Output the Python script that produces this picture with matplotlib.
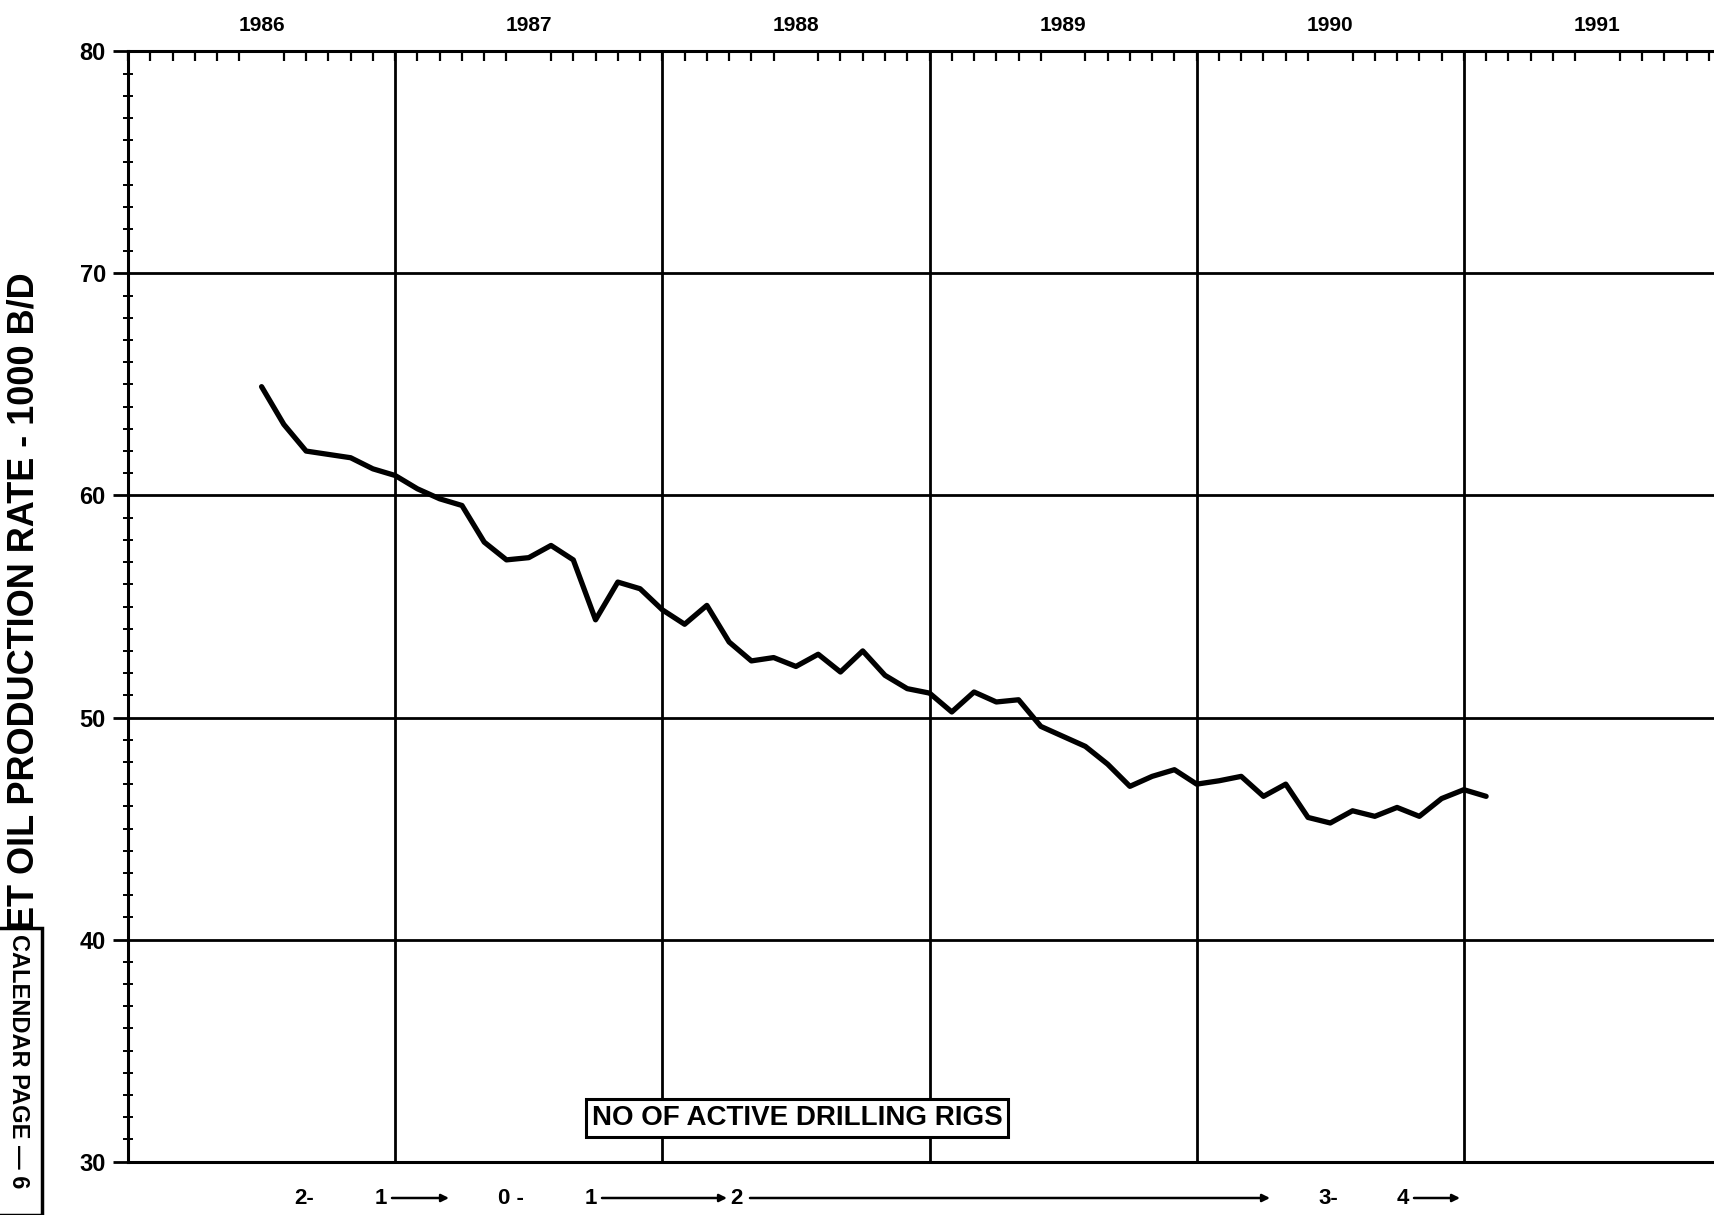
import matplotlib.pyplot as plt
import matplotlib.patches as patches
import numpy as np
import pandas as pd

plt.rcParams['font.family'] = ['Liberation Sans', 'DejaVu Sans']

# monthly net oil production rate, 1000 B/D, from July 1986
start_month = "1986-07-01"
rate = [64.9, 63.2, 62.0, 61.85, 61.7, 61.2, 60.9, 60.3, 59.85, 59.55,
        57.9, 57.1, 57.2, 57.75, 57.1, 54.4, 56.1, 55.8, 54.85, 54.2,
        55.05, 53.4, 52.55, 52.7, 52.3, 52.85, 52.05, 53.0, 51.9, 51.3,
        51.1, 50.25, 51.15, 50.7, 50.8, 49.6, 49.15, 48.7, 47.9, 46.9,
        47.35, 47.65, 47.0, 47.15, 47.35, 46.45, 47.0, 45.5, 45.25, 45.8,
        45.55, 45.95, 45.55, 46.35, 46.75, 46.45]
years = [1986, 1987, 1988, 1989, 1990, 1991]
year_labels = ["1986", "1987", "1988", "1989", "1990", "1991"]
y_ticks = [30, 40, 50, 60, 70, 80]
ylabel = "NET OIL PRODUCTION RATE - 1000 B/D"
box_label = "NO OF ACTIVE DRILLING RIGS"
page_label = "CALENDAR PAGE \u2014 6"

W, H = 1715, 1215


def fx(px):
    return px / W


def fy(py):
    return 1 - py / H


dates = pd.date_range(start_month, periods=len(rate), freq="MS")
x = dates.year + (dates.month - 1) / 12

fig = plt.figure(figsize=(W / 100, H / 100), dpi=100)
ax = fig.add_axes([fx(128), fy(1161.6), 1 - fx(128), (1161.6 - 51.4) / H])

ax.plot(x, rate, color="black", lw=3.8, solid_joinstyle="round",
        solid_capstyle="round", zorder=3)
ax.set_xlim(1986, 1991.94)
ax.set_ylim(30, 80)

# grid
for yr in years[1:]:
    ax.axvline(yr, color="black", lw=2.0, zorder=1)
for v in y_ticks[1:-1]:
    ax.axhline(v, color="black", lw=2.0, zorder=1)

# top axis: years and monthly ticks
ax.xaxis.tick_top()
ax.set_xticks([y + 0.5 for y in years])
ax.set_xticklabels(year_labels, fontsize=15, fontweight="bold")
ax.set_xticks(np.arange(1986, 1991.95, 1 / 12), minor=True)
ax.tick_params(axis="x", which="major", length=0, pad=12)
ax.tick_params(axis="x", which="minor", direction="in", length=7, width=1.6)

ax.set_yticks(y_ticks)
ax.set_yticklabels([str(v) for v in y_ticks], fontsize=17, fontweight="bold")
ax.set_yticks(np.arange(30, 81, 1), minor=True)
ax.tick_params(axis="y", which="major", direction="out", length=11, width=2, pad=5)
ax.tick_params(axis="y", which="minor", direction="inout", length=7, width=1.4)

ax.spines["right"].set_visible(False)
for s in ["left", "top", "bottom"]:
    ax.spines[s].set_linewidth(2.2)

# y label
fig.text(fx(24), fy(614), ylabel, rotation=90, ha="center", va="center",
         fontsize=26, fontweight="bold")

# calendar page stamp
stamp = patches.Rectangle((-0.01, 0), fx(42) + 0.01, fy(928), transform=fig.transFigure,
                          facecolor="white", edgecolor="black", lw=2.5, zorder=5)
fig.patches.append(stamp)
fig.text(fx(18), fy(934), page_label, rotation=270, ha="center", va="top",
         fontsize=17, fontweight="bold", zorder=6)

# rigs box
fig.text(fx(797), fy(1118), box_label, ha="center", va="center", fontsize=20,
         fontweight="bold", zorder=6,
         bbox=dict(boxstyle="square,pad=0.2", facecolor="white", edgecolor="black", lw=2.2))

# rig count timeline under the chart
ty = fy(1198)
for txt, px in [("2-", 304), ("1", 381), ("0 -", 511), ("1", 591), ("2", 736),
                ("3-", 1328), ("4", 1403)]:
    fig.text(fx(px), ty, txt, ha="center", va="center", fontsize=16, fontweight="bold")
for x0, x1 in [(392, 449), (602, 727), (750, 1270), (1414, 1460)]:
    fig.add_artist(plt.Annotation("", xy=(fx(x1), ty), xytext=(fx(x0), ty),
                                  xycoords="figure fraction", textcoords="figure fraction",
                                  arrowprops=dict(arrowstyle="-|>", lw=1.8, color="black",
                                                  mutation_scale=11, shrinkA=0, shrinkB=0)))

fig.savefig("out.png", dpi=100)
